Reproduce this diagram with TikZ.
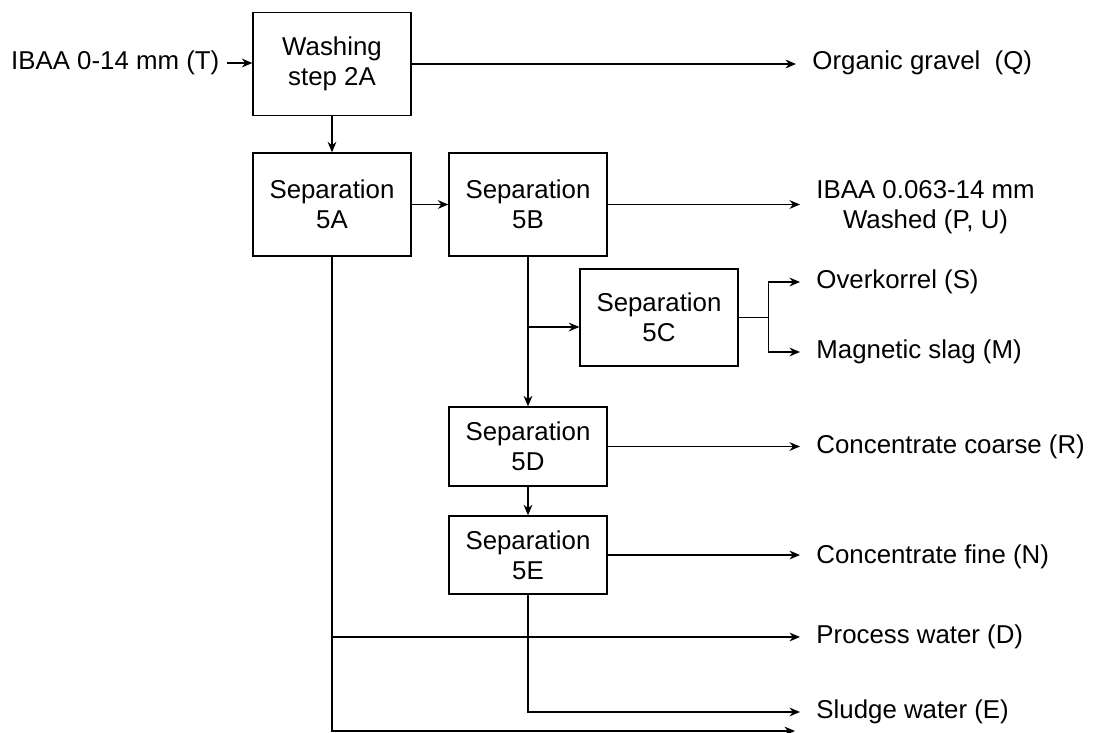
\documentclass[tikz,border=0pt]{standalone}
\usepackage{fontspec}
\setmainfont{Liberation Sans}
\usetikzlibrary{arrows.meta}

\begin{document}
\begin{tikzpicture}[x=0.02cm, y=-0.02cm, line width=0.75pt,
  every node/.style={font=\fontsize{14.7pt}{17pt}\selectfont},
  box/.style={draw, align=center, minimum width=3.16cm, minimum height=2.06cm, inner sep=0pt},
  outlabel/.style={anchor=west, inner xsep=9pt, inner ysep=0pt, align=center},
  arr/.style={-{Stealth[length=6pt,width=5pt]}}]
\useasboundingbox (0,0) rectangle (1096,733);
\node[box] (wash) at (332,64) {Washing\\step 2A};
\node[box] (s5A) at (332,204.5) {Separation\\5A};
\node[box] (s5B) at (528,204.5) {Separation\\5B};
\node[box, minimum height=1.94cm] (s5C) at (659,317.5) {Separation\\5C};
\node[box, minimum height=1.58cm] (s5D) at (528,446.5) {Separation\\5D};
\node[box, minimum height=1.56cm] (s5E) at (528,555) {Separation\\5E};
\node[anchor=east, inner xsep=4pt, inner ysep=1pt] (feed) at (227,63) {IBAA 0-14 mm (T)};
\node[outlabel] (gravel) at (796,63) {Organic gravel\ \ (Q)};
\node[outlabel] (washed) at (800,207) {IBAA 0.063-14 mm\\Washed (P, U)};
\node[outlabel] (over) at (800,282) {Overkorrel (S)};
\node[outlabel] (mag) at (800,352) {Magnetic slag (M)};
\node[outlabel] (coarse) at (800,447) {Concentrate coarse (R)};
\node[outlabel] (fine) at (800,557) {Concentrate fine (N)};
\node[outlabel] (process) at (800,637) {Process water (D)};
\node[outlabel] (sludge) at (800,712) {Sludge water (E)};
\coordinate (bfork) at (528,327);
\coordinate (acorner) at (332,731);
\coordinate (aend) at (795,731);
\draw[arr] (feed.east) -- (feed.east -| wash.west);
\draw[arr] (wash.east) -- (wash.east -| gravel.west);
\draw[arr] (wash) -- (s5A);
\draw[arr] (s5A) -- (s5B);
\draw[arr] (s5B.east) -- (s5B.east -| washed.west);
\draw[arr] (s5B) -- (s5D);
\draw[arr] (bfork) -- (bfork -| s5C.west);
\draw (s5C.east) -- ++(30,0) coordinate (cfork);
\draw[arr] (cfork) |- (over.west);
\draw[arr] (cfork) |- (mag.west);
\draw[arr] (s5D.east) -- (s5D.east -| coarse.west);
\draw[arr] (s5D) -- (s5E);
\draw[arr] (s5E.east) -- (s5E.east -| fine.west);
\draw[arr] (s5E.south) |- (sludge.west);
\draw[arr] (s5A.south) -- (acorner) -- (aend);
\draw[arr] (s5A.south |- process.west) -- (process.west);
\end{tikzpicture}
\end{document}
